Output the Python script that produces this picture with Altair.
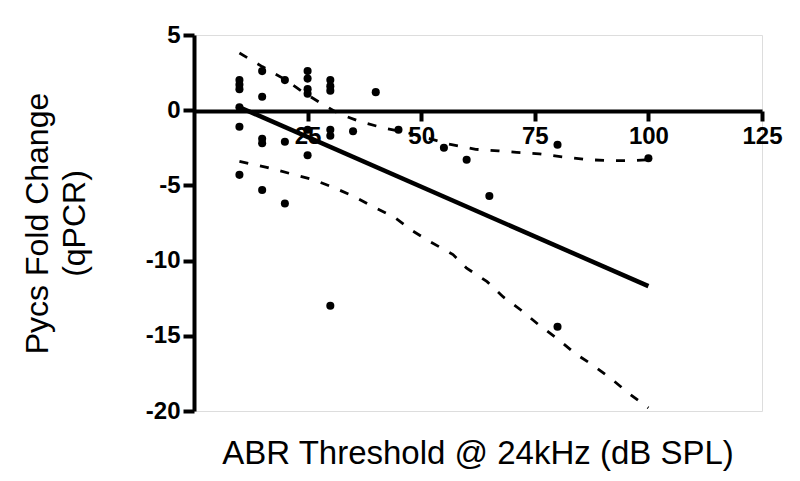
import altair as alt
import pandas as pd

# Scatter data (ABR threshold dB SPL, Pycs fold change)
pt_x = [10, 10, 10, 10, 10, 10,
        15, 15, 15, 15, 15,
        20, 20, 20,
        25, 25, 25, 25, 25, 25,
        30, 30, 30, 30, 30, 30,
        35, 40, 45, 55, 60, 65, 80, 80, 100]
pt_y = [2.0, 1.7, 1.4, 0.2, -1.1, -4.3,
        2.6, 0.9, -1.9, -2.2, -5.3,
        2.0, -2.1, -6.2,
        2.6, 2.1, 1.4, 1.1, -1.3, -3.0,
        2.0, 1.6, 1.3, -1.3, -1.7, -13.0,
        -1.4, 1.2, -1.3, -2.5, -3.3, -5.7, -2.3, -14.4, -3.2]

# Regression line endpoints
fit_x = [10, 100]
fit_y = [0.2, -11.7]

# 95% confidence bands
up_x = [10, 15, 20, 24, 28, 32, 37, 42, 47, 52, 56, 62, 67, 71, 76, 81, 87, 92, 97, 100]
up_y = [3.8, 2.9, 2.05, 1.2, 0.45, -0.25, -0.8, -1.2, -1.5, -1.9, -2.25, -2.6, -2.7,
        -2.8, -2.9, -3.1, -3.3, -3.35, -3.35, -3.3]
lo_x = [10, 16, 21, 26, 30, 35, 39, 44, 48, 52, 57, 60, 64.5, 68, 72, 76, 80, 84, 88, 92, 96, 100]
lo_y = [-3.4, -3.8, -4.2, -4.6, -5.05, -5.7, -6.35, -7.1, -8.0, -8.75, -9.6, -10.5, -11.4,
        -12.4, -13.3, -14.3, -15.2, -16.2, -17.0, -17.9, -18.9, -19.8]

x_ticks = [25, 50, 75, 100, 125]
y_ticks = [5, 0, -5, -10, -15, -20]

pts = pd.DataFrame({"x": pt_x, "y": pt_y})
fit = pd.DataFrame({"x": fit_x, "y": fit_y})
band = pd.concat([
    pd.DataFrame({"x": up_x, "y": up_y, "b": "upper"}),
    pd.DataFrame({"x": lo_x, "y": lo_y, "b": "lower"}),
])

W, H = 568, 376
FONT = "Liberation Sans"

xs = alt.Scale(domain=[0, 125], nice=False, zero=False)
ys = alt.Scale(domain=[-20, 5], nice=False, zero=False)

xaxis = alt.Axis(values=x_ticks, offset=-300, domainWidth=4, domainColor="black",
                 tickWidth=4, tickColor="black", tickSize=10, labelFont=FONT,
                 labelFontSize=24, labelFontWeight="bold", labelColor="black",
                 labelPadding=3, grid=False, title=None, labelFlush=False,
                 labelExpr="'' + datum.value")
yaxis = alt.Axis(values=y_ticks, domainWidth=4, domainColor="black",
                 tickWidth=4, tickColor="black", tickSize=11, labelFont=FONT,
                 labelFontSize=24, labelFontWeight="bold", labelColor="black",
                 labelPadding=3, grid=False, title=["Pycs Fold Change", "(qPCR)"],
                 titleFont=FONT, titleFontSize=32, titleFontWeight="normal",
                 titleLineHeight=37, titleColor="black", titlePadding=54,
                 labelFlush=False, labelExpr="'' + datum.value")

points = alt.Chart(pts).mark_circle(size=65, color="black", opacity=1).encode(
    x=alt.X("x:Q", scale=xs, axis=xaxis),
    y=alt.Y("y:Q", scale=ys, axis=yaxis),
)
line = alt.Chart(fit).mark_line(color="black", strokeWidth=4.5).encode(
    x=alt.X("x:Q", scale=xs), y=alt.Y("y:Q", scale=ys))
bands = alt.Chart(band).mark_line(color="black", strokeWidth=2.8, strokeDash=[9, 12]).encode(
    x=alt.X("x:Q", scale=xs), y=alt.Y("y:Q", scale=ys), detail="b:N")

chart = alt.layer(bands, line, points).properties(
    width=W, height=H,
    title=alt.TitleParams("ABR Threshold @ 24kHz (dB SPL)", orient="bottom",
                          font=FONT, fontSize=33, fontWeight="normal", color="black",
                          offset=15, anchor="middle"),
    autosize=alt.AutoSizeParams(type="none"),
    padding={"left": 186, "top": 27, "right": 30, "bottom": 62},
).configure_view(stroke=None).configure(background="white")

chart.save("out.html", embed_options={"renderer": "svg", "actions": False})
